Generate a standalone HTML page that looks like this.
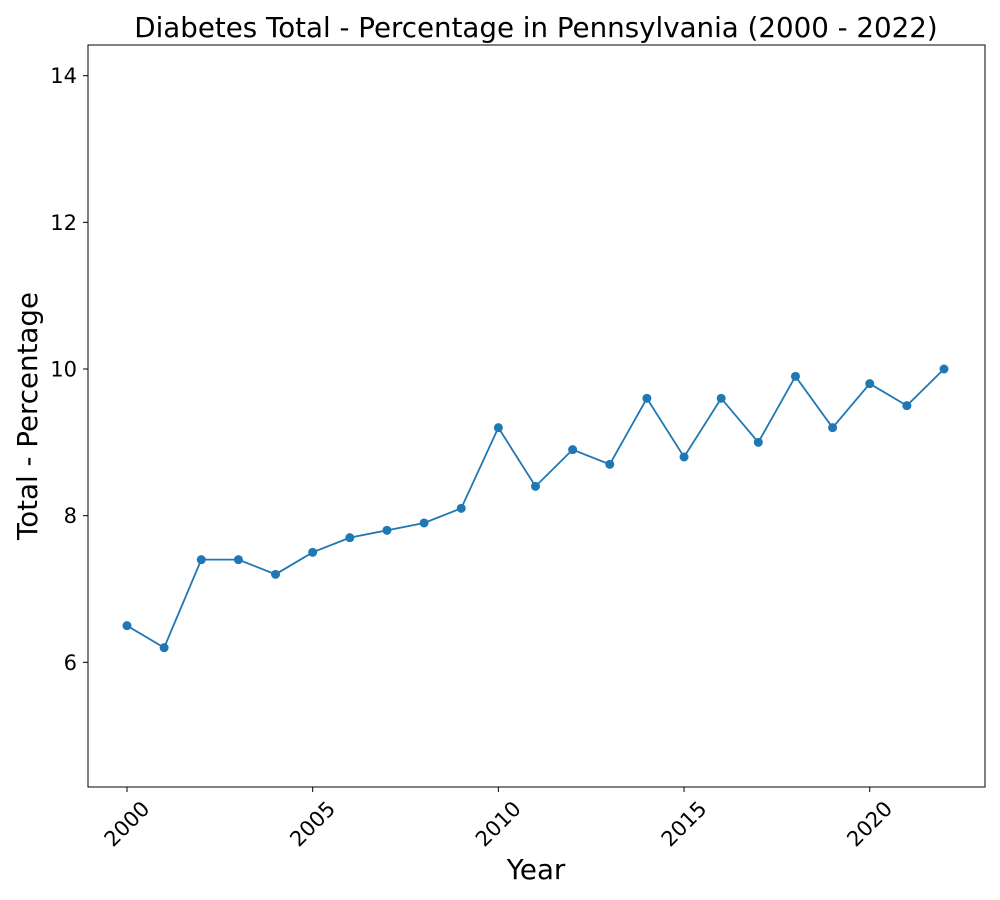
<!DOCTYPE html>
<html><head><meta charset="utf-8"><style>body{margin:0;background:#fff}svg{display:block;font-family:"DejaVu Sans","Liberation Sans",sans-serif}</style></head>
<body>
<svg id="chart" width="1000" height="900" xmlns="http://www.w3.org/2000/svg">
<text x="536" y="37" font-size="27.7" text-anchor="middle">Diabetes Total - Percentage in Pennsylvania (2000 - 2022)</text>
<g id="axes"></g>
<rect x="88" y="45" width="897" height="742" fill="none" stroke="#000" stroke-width="1"/>
<text x="536" y="879" font-size="27.7" text-anchor="middle">Year</text>
<text transform="translate(37,416) rotate(-90)" font-size="27.7" text-anchor="middle">Total - Percentage</text>
</svg>
<script>
const years=[2000,2001,2002,2003,2004,2005,2006,2007,2008,2009,2010,2011,2012,2013,2014,2015,2016,2017,2018,2019,2020,2021,2022];
const values=[6.5,6.2,7.4,7.4,7.2,7.5,7.7,7.8,7.9,8.1,9.2,8.4,8.9,8.7,9.6,8.8,9.6,9.0,9.9,9.2,9.8,9.5,10.0];
const xTicks=[2000,2005,2010,2015,2020];
const yTicks=[6,8,10,12,14];
const NS="http://www.w3.org/2000/svg";
const x=v=>127+(v-2000)*(944-127)/22;
const y=v=>369+(10-v)*73.33;
const g=document.getElementById('axes');
function mk(t,a){const e=document.createElementNS(NS,t);for(const k in a)e.setAttribute(k,a[k]);g.appendChild(e);return e;}
xTicks.forEach(t=>{
 const l=mk('line',{x1:x(t),x2:x(t),y1:787,y2:792,stroke:'#000'});
 
 
 const tx=mk('text',{'font-size':21,'text-anchor':'middle','dominant-baseline':'central',transform:`translate(${x(t)},${824}) rotate(-45)`});
 tx.textContent=t;
 
 
});
yTicks.forEach(t=>{
 const l=mk('line',{x1:83,x2:88,y1:y(t),y2:y(t),stroke:'#000'});
 
 
 const tx=mk('text',{'font-size':21,'text-anchor':'end',x:77,y:y(t)+7.5});
 tx.textContent=t;
 
 
});
const p=mk('polyline',{points:years.map((yr,i)=>x(yr)+','+y(values[i])).join(' '),fill:'none',stroke:'#1f77b4','stroke-width':1.8});


years.forEach((yr,i)=>{
 const c=mk('circle',{cx:x(yr),cy:y(values[i]),r:4.5,fill:'#1f77b4'});
 
 
});
</script>
</body></html>
